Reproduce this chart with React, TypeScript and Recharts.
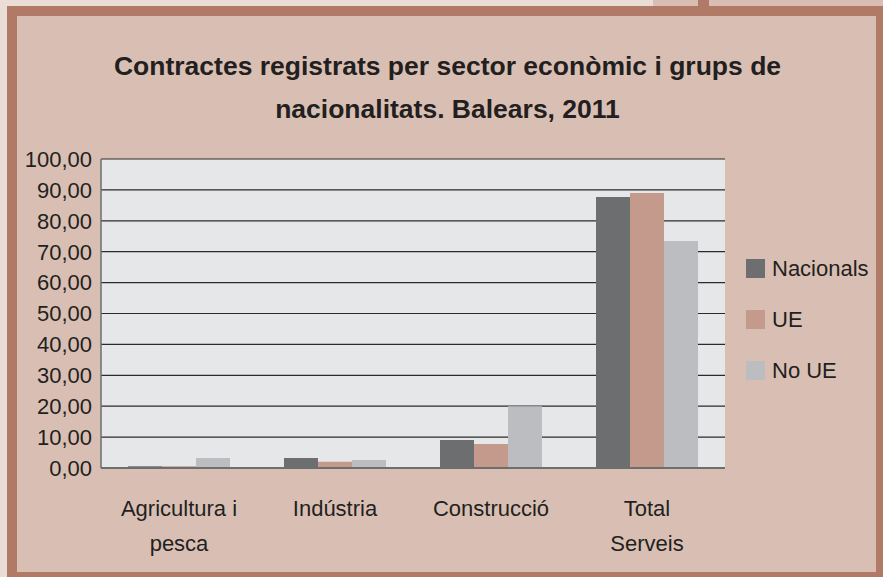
import { BarChart, Bar, XAxis, YAxis, CartesianGrid } from 'recharts'

const categories = ['Agricultura i|pesca', 'Indústria', 'Construcció', 'Total|Serveis']
const nacionals = [0.6, 3.2, 9.1, 87.7]
const ue = [0.6, 2.0, 7.8, 89.0]
const noUe = [3.2, 2.6, 20.0, 73.5]
const yTicks = [0, 10, 20, 30, 40, 50, 60, 70, 80, 90, 100]

const SERIES = [
  { key: 'nacionals', name: 'Nacionals', color: '#6d6e70' },
  { key: 'ue', name: 'UE', color: '#c49a8c' },
  { key: 'noUe', name: 'No UE', color: '#bcbdc0' },
]

const data = categories.map((c, i) => ({
  name: c,
  nacionals: nacionals[i],
  ue: ue[i],
  noUe: noUe[i],
}))

const FONT = '"Liberation Sans", Arial, sans-serif'

function CategoryTick({ x, y, payload }: any) {
  const lines = String(payload.value).split('|')
  return (
    <g>
      {lines.map((l, i) => (
        <text
          key={i}
          x={x}
          y={y + 34 + i * 35}
          textAnchor="middle"
          dominantBaseline="middle"
          fontSize={22}
          fill="#231f20"
          fontFamily={FONT}
        >
          {l}
        </text>
      ))}
    </g>
  )
}

export default function App() {
  return (
    <div style={{ position: 'absolute', left: 0, top: 0, width: 883, height: 577, background: '#eaddd5', overflow: 'hidden' }}>
      <div style={{ position: 'absolute', left: 653, top: 0, width: 230, height: 8, background: '#d9bfb3' }} />
      <div style={{ position: 'absolute', left: 698, top: 0, width: 11, height: 8, background: '#b07a67' }} />
      <div
        style={{
          position: 'absolute',
          left: 7,
          top: 6,
          width: 883 - 7 - 10 - 7,
          height: 577 - 6 - 10 - 5,
          borderStyle: 'solid',
          borderColor: '#b07a67',
          borderWidth: '10px 7px 5px 10px',
          background: '#d9bfb3',
        }}
      />
      <div
        style={{
          position: 'absolute',
          left: 0,
          top: 45,
          width: 895,
          textAlign: 'center',
          fontFamily: FONT,
          fontWeight: 'bold',
          fontSize: 26.5,
          lineHeight: '43px',
          color: '#231f20',
        }}
      >
        Contractes registrats per sector econòmic i grups de
        <br />
        nacionalitats. Balears, 2011
      </div>
      <div style={{ position: 'absolute', left: 0, top: 0 }}>
        <BarChart
          width={883}
          height={577}
          data={data}
          margin={{ top: 159, right: 158, left: 11, bottom: 0 }}
          barCategoryGap={27}
          barGap={0}
        >
          <CartesianGrid vertical={false} stroke="#2b2b2b" strokeWidth={1.2} fill="#e6e7e9" />
          <XAxis
            dataKey="name"
            height={109}
            tickLine={false}
            axisLine={{ stroke: '#6d6e70', strokeWidth: 2 }}
            tick={<CategoryTick />}
            interval={0}
          />
          <YAxis
            width={90}
            domain={[0, 100]}
            ticks={yTicks}
            interval={0}
            tickLine={false}
            axisLine={{ stroke: '#6d6e70', strokeWidth: 1.5 }}
            tickFormatter={(v: number) => v.toFixed(2).replace('.', ',')}
            tick={{ fontSize: 22, fill: '#231f20', fontFamily: FONT }}
            tickMargin={3}
          />
          {SERIES.map((s) => (
            <Bar key={s.key} dataKey={s.key} name={s.name} fill={s.color} isAnimationActive={false} />
          ))}
        </BarChart>
      </div>
      <div style={{ position: 'absolute', left: 746, top: 243, fontFamily: FONT }}>
        {SERIES.map((s) => (
          <div key={s.key} style={{ display: 'flex', alignItems: 'center', height: 51 }}>
            <span style={{ width: 19, height: 19, background: s.color, display: 'inline-block', marginRight: 7 }} />
            <span style={{ fontSize: 22, color: '#231f20' }}>{s.name}</span>
          </div>
        ))}
      </div>
    </div>
  )
}
